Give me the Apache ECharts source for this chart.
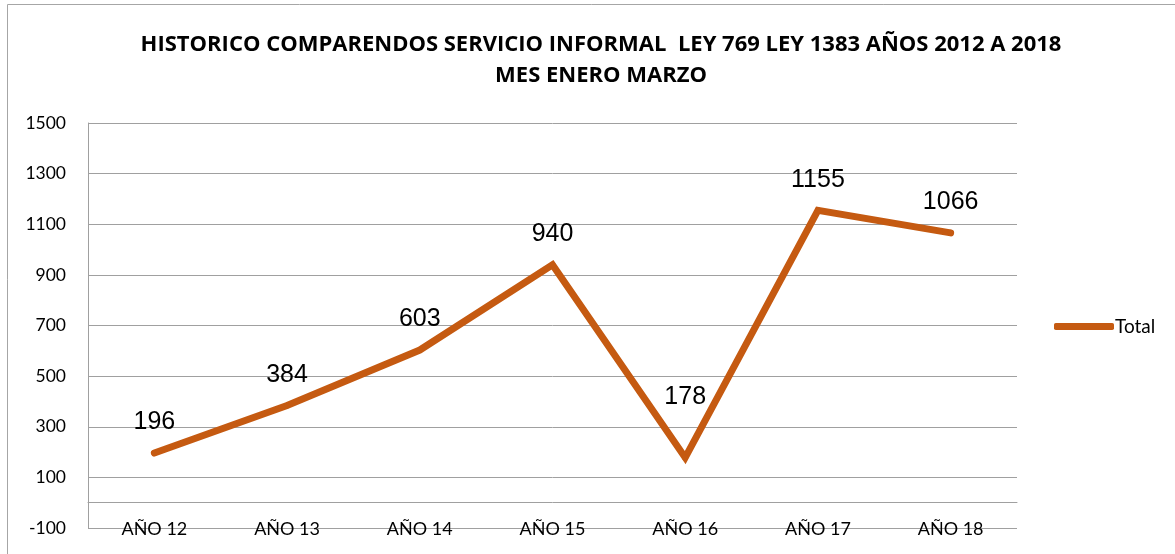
<!DOCTYPE html>
<html>
<head>
<meta charset="utf-8">
<script src="https://cdn.jsdelivr.net/npm/echarts@6/dist/echarts.min.js"></script>
<style>
html, body { margin: 0; padding: 0; background: #fff; }
#chart { width: 1175px; height: 554px; }
</style>
</head>
<body>
<div id="chart"></div>
<script>
const categories = ['AÑO 12', 'AÑO 13', 'AÑO 14', 'AÑO 15', 'AÑO 16', 'AÑO 17', 'AÑO 18'];
const totals = [196, 384, 603, 940, 178, 1155, 1066];
const yTicks = { min: -100, max: 1500, interval: 200 };

const myChart = echarts.init(document.getElementById('chart'));
const data = totals.map(function (v, i) {
	// the 178 label sits higher in the original
	if (i === 4) return { value: v, label: { offset: [0, -30] } };
	return v;
});
const option = {
	animation: false,
	graphic: [{
		type: 'rect',
		shape: { x: 7.5, y: 4.5, width: 1200, height: 600 },
		style: { fill: 'none', stroke: '#a6a6a6', lineWidth: 1 }
	}],
	title: {
		text: 'HISTORICO COMPARENDOS SERVICIO INFORMAL  LEY 769 LEY 1383 AÑOS 2012 A 2018\nMES ENERO MARZO',
		left: 596,
		textAlign: 'center',
		top: 24,
		textStyle: {
			fontFamily: 'Open Sans',
			fontWeight: 'bold',
			fontSize: 22,
			lineHeight: 31,
			color: '#000'
		}
	},
	legend: {
		data: ['Total'],
		left: 1049,
		top: 312,
		itemWidth: 60,
		itemHeight: 7,
		itemGap: 0,
		icon: 'roundRect',
		itemStyle: { color: '#c55a11' },
		textStyle: { fontFamily: 'Lato', fontSize: 19, color: '#000', padding: [0, 0, 0, -4] }
	},
	grid: {
		left: 88,
		top: 123,
		width: 929,
		height: 405
	},
	xAxis: {
		type: 'category',
		data: categories,
		boundaryGap: true,
		axisLine: { lineStyle: { color: '#a0a0a0' } },
		axisTick: { show: false },
		axisLabel: { margin: -8, fontFamily: 'Lato', fontSize: 18, color: '#000' }
	},
	yAxis: {
		type: 'value',
		min: yTicks.min,
		max: yTicks.max,
		interval: yTicks.interval,
		axisLine: { show: true, lineStyle: { color: '#a0a0a0' } },
		axisTick: { show: false },
		axisLabel: {
			margin: 22, fontFamily: 'Lato', fontSize: 17.5, color: '#000',
			formatter: function (v) { return String(v); }
		},
		splitLine: { lineStyle: { color: '#a0a0a0' } }
	},
	series: [{
		name: 'Total',
		type: 'line',
		data: data,
		symbol: 'circle',
		symbolSize: 6,
		showSymbol: true,
		itemStyle: { color: '#c55a11' },
		color: '#c55a11',
		lineStyle: { width: 7, cap: 'round', join: 'miter', color: '#c55a11' },
		label: {
			show: true,
			position: 'top',
			distance: 15,
			fontFamily: 'Liberation Sans',
			fontSize: 25,
			color: '#000'
		}
	}]
};
myChart.setOption(option);
</script>
</body>
</html>
